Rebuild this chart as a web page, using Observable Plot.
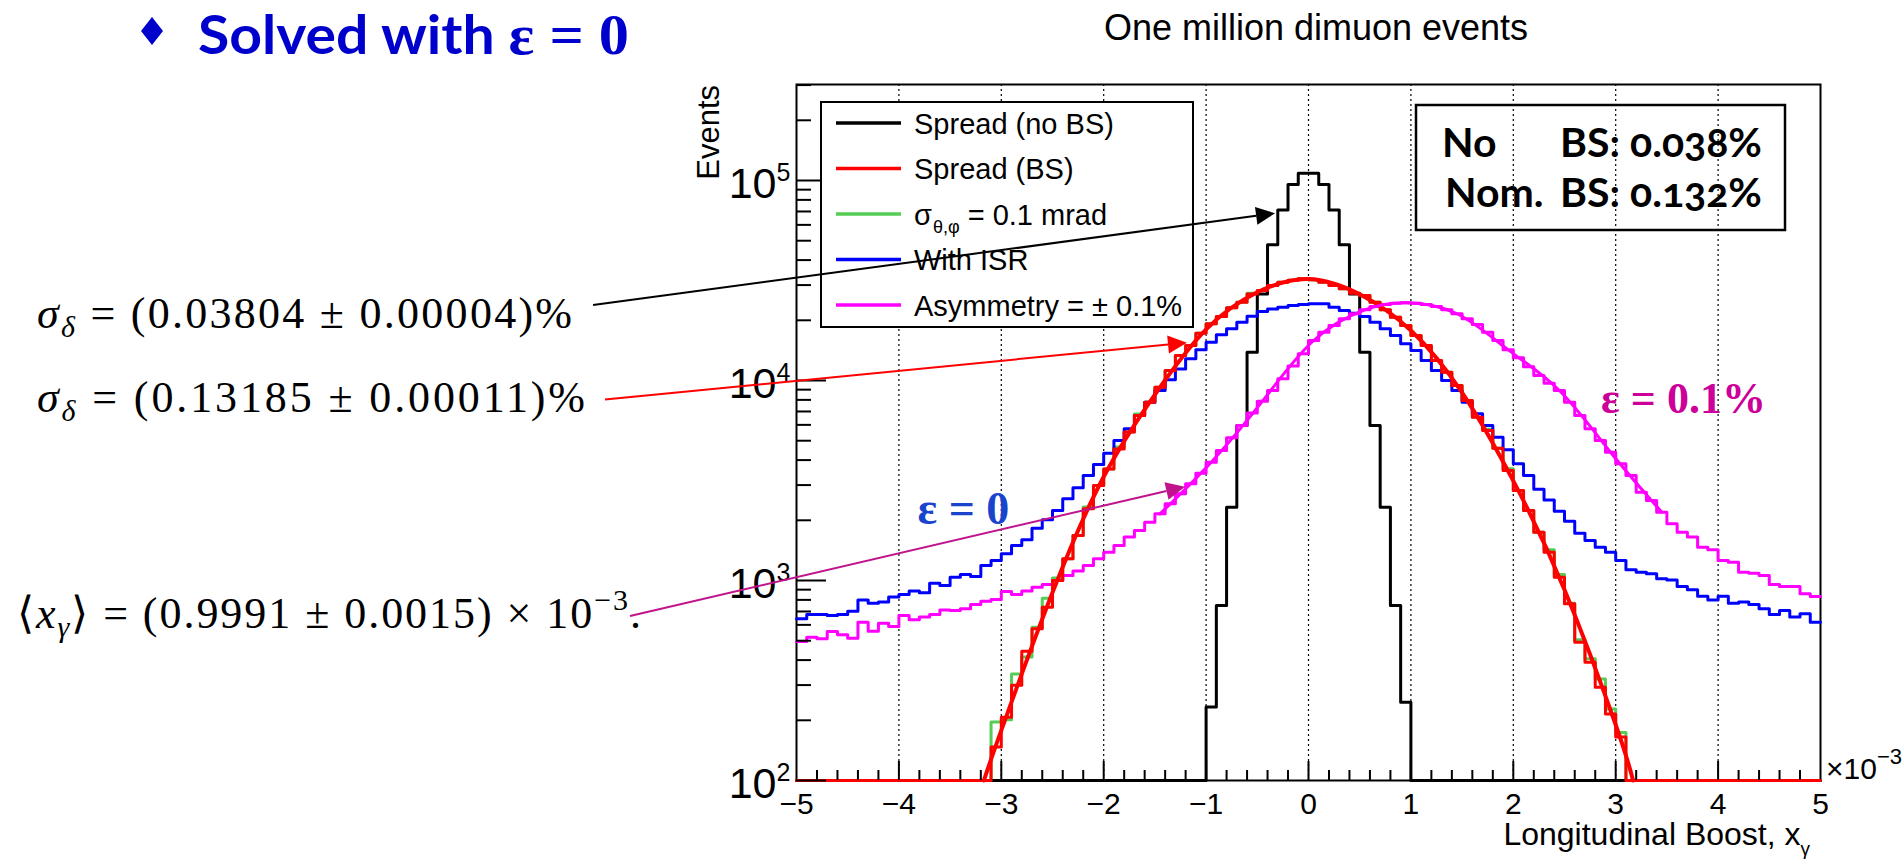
<!DOCTYPE html>
<html>
<head>
<meta charset="utf-8">
<script src="https://cdn.jsdelivr.net/npm/d3@7"></script>
<script src="https://cdn.jsdelivr.net/npm/@observablehq/plot@0.6"></script>
<style>
html, body { margin: 0; padding: 0; background: #ffffff; }
#chart { width: 1904px; height: 861px; overflow: hidden; }
</style>
</head>
<body>
<div id="chart"></div>
<script>
// ---------------- DATA (events per 0.1e-3 bin, bins from -5 to 5) ----------------
const binLo = -5, binWidth = 0.1, nBins = 100;

const seriesNames = ["Spread (no BS)", "Spread (BS)", "σθ,φ = 0.1 mrad", "With ISR", "Asymmetry = ± 0.1%"];
const seriesColors = ["#000000", "#ff0000", "#55cc55", "#0000ff", "#ff00ff"];

const blackCounts = [
  0,0,0,0,0,0,0,0,0,0, 0,0,0,0,0,0,0,0,0,0, 0,0,0,0,0,0,0,0,0,0, 0,0,0,0,0,0,0,0,0,0,
  233, 750, 2326, 5960, 13860, 27100, 47700, 71300, 95500, 108800,
  108800, 95500, 71300, 47700, 27100, 13860, 5960, 2326, 750, 246,
  0,0,0,0,0,0,0,0,0,0, 0,0,0,0,0,0,0,0,0,0, 0,0,0,0,0,0,0,0,0,0, 0,0,0,0,0,0,0,0,0,0
];

const redCounts = [
  0,0,0,0,0,0,0,0,0,0, 0,0,0,0,0,0,0,0,0,
  147, 207, 299, 443, 573, 736,
  1000, 1283, 1679, 2282, 2985, 3615, 4550, 5520, 6680, 7790, 9260, 11220, 13340, 14960, 17250,
  19200, 20890, 23090, 24630, 27100, 28180, 29850, 31030, 31750, 32240,
  31880, 31030, 29850, 28730, 27330, 26610, 24630, 22550, 20720, 18840, 16790, 14960,
  12590, 11010, 9440, 7940, 6550, 5620, 4590, 3550, 2820, 2240, 1745, 1386,
  1039, 765, 491, 390, 293, 215, 165,
  0,0,0,0,0,0,0,0,0,0, 0,0,0,0,0,0,0,0,0
];

const greenCounts = [
  0,0,0,0,0,0,0,0,0,0, 0,0,0,0,0,0,0,0,0,
  196, 201, 341, 414, 584, 816,
  1030, 1283, 1679, 2330, 2985, 3615, 4650, 5520, 6800, 7790, 9260, 11220, 13340, 14960, 17250,
  19200, 20890, 23090, 24630, 27300, 28180, 29850, 31030, 31750, 32240,
  31880, 31030, 29850, 28730, 27330, 26610, 24630, 22550, 20720, 18840, 16790, 14960,
  12590, 11010, 9440, 7940, 6550, 5700, 4590, 3620, 2820, 2240, 1745, 1423,
  1072, 770, 505, 406, 322, 228, 174,
  0,0,0,0,0,0,0,0,0,0, 0,0,0,0,0,0,0,0,0
];

const blueCounts = [
  643, 676, 676, 668, 676, 702, 800, 770, 780, 826, 851, 885, 868, 970, 944, 1039, 1072, 1047, 1189, 1259,
  1360, 1496, 1597, 1827, 2010,
  2239, 2560, 2905, 3350, 3800, 4330, 5010, 5730, 6680, 7790, 8910, 10080, 11430, 12830, 14230,
  15540, 16920, 18130, 19580, 20970, 22130, 22800, 23260, 23710, 24000,
  24170, 24170, 23260, 22390, 21700, 20890, 19580, 18130, 16790, 15250, 14130, 12590,
  11220, 10000, 8910, 7790, 6810, 5960, 5210, 4500, 3830, 3350, 2860, 2530,
  2220, 1980, 1725, 1585, 1468, 1386, 1259, 1131, 1101, 1080, 1019, 1007, 933,
  898, 835, 800, 835, 770, 780, 759, 722, 676, 708, 656, 681, 619
];

const magentaCounts = [
  495, 521, 511, 556, 535, 515, 619, 558, 612, 589, 668, 636, 656, 676, 713, 708, 722, 759, 788, 804,
  881, 851, 885, 926, 955,
  1000, 1059, 1114, 1189, 1283, 1386, 1496, 1648, 1778, 1958, 2154, 2417, 2712, 3043, 3440,
  3905, 4470, 5170, 5960, 6870, 7880, 8910, 10190, 11800, 13600,
  15850, 17440, 18840, 20340, 21560, 22550, 23440, 23990, 24360, 24450, 24360, 23990,
  23440, 22550, 21560, 20340, 19050, 17440, 15850, 14230, 13000, 11700, 10600, 9700,
  8910, 7790, 6680, 5730, 5010, 4380, 3830, 3350, 2765, 2510, 2196, 1920, 1745,
  1648, 1468, 1423, 1259, 1235, 1101, 1088, 1059, 955, 933, 933, 858, 832
];

// smooth fit curves
const redFitX = [-3.17, -3.0, -2.5, -2.0, -1.5, -1.0, -0.5, 0.0, 0.5, 1.0, 1.5, 2.0, 2.5, 3.0, 3.17];
const redFitY = [100, 178, 870, 3300, 8500, 18000, 27600, 32200, 27000, 17800, 8700, 3150, 900, 190, 100];
const magFitX = [-1.45, -0.95, -0.45, 0.05, 0.55, 0.95, 1.45, 1.95, 2.45, 2.95, 3.45];
const magFitY = [2154, 3905, 7880, 15850, 22550, 24450, 21560, 14230, 8910, 4380, 2196];

// annotation arrows (data coordinates; tails lie left of the frame)
const arrowX1 = [-6.982, -6.865, -6.621];
const arrowY1 = [23714, 7988, 661];
const arrowX2 = [-0.322, -1.182, -1.201];
const arrowY2 = [68170, 15370, 2928];
const arrowColors = ["#000000", "#ff0000", "#c0148c"];

// labels inside the plot
const epsLabelText = ["ε = 0", "ε = 0.1%"];
const epsLabelX = [-3.37, 3.662];
const epsLabelY = [2265, 8128];
const epsLabelSize = [46, 44];
const epsLabelColor = ["#1a44cc", "#cc0099"];

// axes
const yMin = 100, yMax = 3.02e5;
const xLabels = [-5, -4, -3, -2, -1, 0, 1, 2, 3, 4, 5];
const xGrid = [-4, -3, -2, -1, 0, 1, 2, 3, 4];
const xMinor = d3.range(-50, 51, 2).map(v => v / 10).filter(v => !Number.isInteger(v));
const yMajor = [1e2, 1e3, 1e4, 1e5];
const yMinor = [2,3,4,5,6,7,8,9].flatMap(m => [1e2, 1e3, 1e4].map(d => m * d)).concat([2e5, 3e5]);

// stat box
const statLabels = ["No", "Nom."];
const statValues = ["0.038%", "0.132%"];

// ---------------- LAYOUT ----------------
const W = 1904, H = 861, ML = 796, MR = 84, MT = 84, MB = 81;
const FW = W - ML - MR, FH = H - MT - MB;
const SANS = "'Liberation Sans', Arial, Helvetica, sans-serif";
const SERIF = "'Liberation Serif', 'Times New Roman', serif";
const NS = "http://www.w3.org/2000/svg";

function el(tag, attrs, parent) {
  const e = document.createElementNS(NS, tag);
  for (const k in attrs) e.setAttribute(k, attrs[k]);
  if (parent) parent.appendChild(e);
  return e;
}
function rich(parent, attrs, parts) {
  const t = el("text", Object.assign({"text-anchor": "start"}, attrs), parent);
  for (const p of parts) {
    const s = el("tspan", p.a || {}, t);
    s.textContent = p.t;
  }
  return t;
}

function histPoints(vals) {
  const pts = vals.map((v, i) => ({x: binLo + i * binWidth, y: Math.max(v, yMin)}));
  pts.push({x: binLo + nBins * binWidth, y: Math.max(vals[nBins - 1], yMin)});
  return pts;
}
const fitPoints = (xs, ys) => xs.map((x, i) => ({x, y: Math.max(ys[i], yMin)}));

// legend mark
function legendMark() {
  const g = el("g", {});
  el("rect", {x: 821, y: 102, width: 372, height: 225, fill: "#fff", stroke: "#000", "stroke-width": 2}, g);
  const cy = [123, 168.5, 214, 259.5, 305];
  seriesNames.forEach((name, i) => {
    el("line", {x1: 836, x2: 901, y1: cy[i], y2: cy[i], stroke: seriesColors[i], "stroke-width": 3.5}, g);
    const attrs = {x: 914, y: cy[i] + 10.5, "font-family": SANS, "font-size": 29, fill: "#000"};
    if (i === 2) {
      rich(g, attrs, [
        {t: "σ"},
        {t: "θ,φ", a: {"font-size": 18, dy: 8, dx: 1}},
        {t: " = 0.1 mrad", a: {dy: -8}}
      ]);
    } else {
      rich(g, attrs, [{t: name}]);
    }
  });
  return g;
}

function statMark() {
  const g = el("g", {});
  el("rect", {x: 1416, y: 105, width: 369, height: 125, fill: "none", stroke: "#000", "stroke-width": 2.5}, g);
  const base = [157, 207];
  const lx = [1442, 1445];
  statLabels.forEach((lab, i) => {
    const a = {"font-family": "Lato, 'Open Sans', sans-serif", "font-weight": 700, "font-size": 41, fill: "#000",
               style: "font-variant-numeric: oldstyle-nums;"};
    rich(g, Object.assign({x: lx[i], y: base[i]}, a), [{t: lab}]);
    rich(g, Object.assign({x: 1560, y: base[i]}, a), [{t: "BS:"}]);
    rich(g, Object.assign({x: 1630, y: base[i]}, a), [{t: statValues[i]}]);
  });
  return g;
}

function arrowMark(index, scales) {
  const g = el("g", {});
  arrowX1.forEach((_, i) => {
    const x1 = scales.x(arrowX1[i]), y1 = scales.y(arrowY1[i]);
    const x2 = scales.x(arrowX2[i]), y2 = scales.y(arrowY2[i]);
    const a = Math.atan2(y2 - y1, x2 - x1);
    const L = 19, hw = 9;
    const bx = x2 - L * Math.cos(a), by = y2 - L * Math.sin(a);
    el("line", {x1, y1, x2: bx, y2: by, stroke: arrowColors[i], "stroke-width": 2}, g);
    el("path", {
      d: `M${x2},${y2}L${bx + hw * Math.sin(a)},${by - hw * Math.cos(a)}L${bx - hw * Math.sin(a)},${by + hw * Math.cos(a)}Z`,
      fill: arrowColors[i]
    }, g);
  });
  return g;
}

function pageTextMark() {
  const g = el("g", {});
  // bullet + title
  el("path", {d: "M152,17L163,31L152,45L141,31Z", fill: "#0000cc"}, g);
  rich(g, {x: 198, y: 54, fill: "#0000cc", textLength: 431, lengthAdjust: "spacingAndGlyphs"}, [
    {t: "Solved with ", a: {"font-family": "Lato, 'Open Sans', sans-serif", "font-weight": 700, "font-size": 53}},
    {t: "ε = 0", a: {"font-family": SERIF, "font-weight": 700, "font-size": 56}}
  ]);
  // subtitle
  rich(g, {x: 1316, y: 40, "text-anchor": "middle", "font-family": SANS, "font-size": 36, fill: "#000"},
       [{t: "One million dimuon events"}]);
  // equations on the left
  const eq = {"font-family": SERIF, "font-size": 44, fill: "#000", lengthAdjust: "spacing"};
  rich(g, Object.assign({x: 37, y: 328, textLength: 535}, eq), [
    {t: "σ", a: {"font-style": "italic"}},
    {t: "δ", a: {"font-style": "italic", "font-size": 30, dy: 9}},
    {t: " = (0.03804 ± 0.00004)%", a: {dy: -9}}
  ]);
  rich(g, Object.assign({x: 37, y: 412, textLength: 548}, eq), [
    {t: "σ", a: {"font-style": "italic"}},
    {t: "δ", a: {"font-style": "italic", "font-size": 30, dy: 9}},
    {t: " = (0.13185 ± 0.00011)%", a: {dy: -9}}
  ]);
  rich(g, Object.assign({x: 17, y: 628, textLength: 624}, eq), [
    {t: "⟨"},
    {t: "x", a: {"font-style": "italic"}},
    {t: "γ", a: {"font-style": "italic", "font-size": 30, dy: 9}},
    {t: "⟩ = (0.9991 ± 0.0015) × 10", a: {dy: -9}},
    {t: "−3", a: {"font-size": 30, dy: -18}},
    {t: ".", a: {dy: 18}}
  ]);
  // y-axis title
  rich(g, {transform: "translate(719,85) rotate(-90)", "text-anchor": "end", "font-family": SANS, "font-size": 31, fill: "#000"},
       [{t: "Events"}]);
  // x-axis title
  rich(g, {x: 1810, y: 845, "text-anchor": "end", "font-family": SANS, "font-size": 32, fill: "#000"}, [
    {t: "Longitudinal Boost, x"},
    {t: "γ", a: {"font-size": 19, dy: 10}}
  ]);
  // exponent of x axis
  rich(g, {x: 1826, y: 779, "font-family": SANS, "font-size": 30, fill: "#000"}, [
    {t: "×10"},
    {t: "−3", a: {"font-size": 22, dy: -15}}
  ]);
  return g;
}

const fmtX = d3.format("d");

const chart = Plot.plot({
  width: W, height: H,
  marginLeft: ML, marginRight: MR, marginTop: MT, marginBottom: MB,
  x: {domain: [-5, 5], axis: null},
  y: {type: "log", domain: [yMin, yMax], axis: null},
  style: {background: "#ffffff", fontFamily: SANS, color: "#000"},
  marks: [
    Plot.ruleX(xGrid, {x: d => d, stroke: "#000", strokeWidth: 1.2, strokeDasharray: "2,3"}),
    Plot.frame({stroke: "#000", strokeWidth: 2}),
    Plot.line(histPoints(greenCounts), {x: "x", y: "y", curve: "step-after", stroke: seriesColors[2], strokeWidth: 3}),
    Plot.line(histPoints(blackCounts), {x: "x", y: "y", curve: "step-after", stroke: seriesColors[0], strokeWidth: 3}),
    Plot.line(histPoints(blueCounts), {x: "x", y: "y", curve: "step-after", stroke: seriesColors[3], strokeWidth: 3}),
    Plot.line(histPoints(magentaCounts), {x: "x", y: "y", curve: "step-after", stroke: seriesColors[4], strokeWidth: 3}),
    Plot.line(histPoints(redCounts), {x: "x", y: "y", curve: "step-after", stroke: seriesColors[1], strokeWidth: 3}),
    Plot.line(fitPoints(redFitX, redFitY), {x: "x", y: "y", curve: "natural", stroke: seriesColors[1], strokeWidth: 4}),
    Plot.line(fitPoints(magFitX, magFitY), {x: "x", y: "y", curve: "natural", stroke: seriesColors[4], strokeWidth: 3}),
    // inward ticks (ROOT style)
    Plot.tickX(xMinor, {x: d => d, stroke: "#000", strokeWidth: 2, insetTop: FH - 10}),
    Plot.tickX(xGrid, {x: d => d, stroke: "#000", strokeWidth: 2, insetTop: FH - 19}),
    Plot.tickY(yMinor, {y: d => d, stroke: "#000", strokeWidth: 2, insetRight: FW - 15}),
    Plot.tickY(yMajor, {y: d => d, stroke: "#000", strokeWidth: 2, insetRight: FW - 30}),
    // tick labels
    Plot.text(xLabels, {x: d => d, frameAnchor: "bottom", text: d => fmtX(d), fontSize: 30, lineAnchor: "bottom", dy: 33, fill: "#000"}),
    Plot.text(yMajor, {y: d => d, frameAnchor: "left", text: () => "10", textAnchor: "end", fontSize: 43, lineAnchor: "bottom", dx: -20, dy: 17, fill: "#000"}),
    Plot.text(yMajor, {y: d => d, frameAnchor: "left", text: d => String(Math.round(Math.log10(d))), textAnchor: "start", fontSize: 25, lineAnchor: "bottom", dx: -20, dy: 0, fill: "#000"}),
    legendMark,
    statMark,
    arrowMark,
    Plot.text(epsLabelText, {x: (d, i) => epsLabelX[i], y: (d, i) => epsLabelY[i], text: d => d,
      fill: (d, i) => epsLabelColor[i], fontSize: (d, i) => epsLabelSize[i], fontFamily: SERIF, fontWeight: "bold", lineAnchor: "middle"}),
    pageTextMark
  ]
});
document.getElementById("chart").appendChild(chart);
</script>
</body>
</html>
